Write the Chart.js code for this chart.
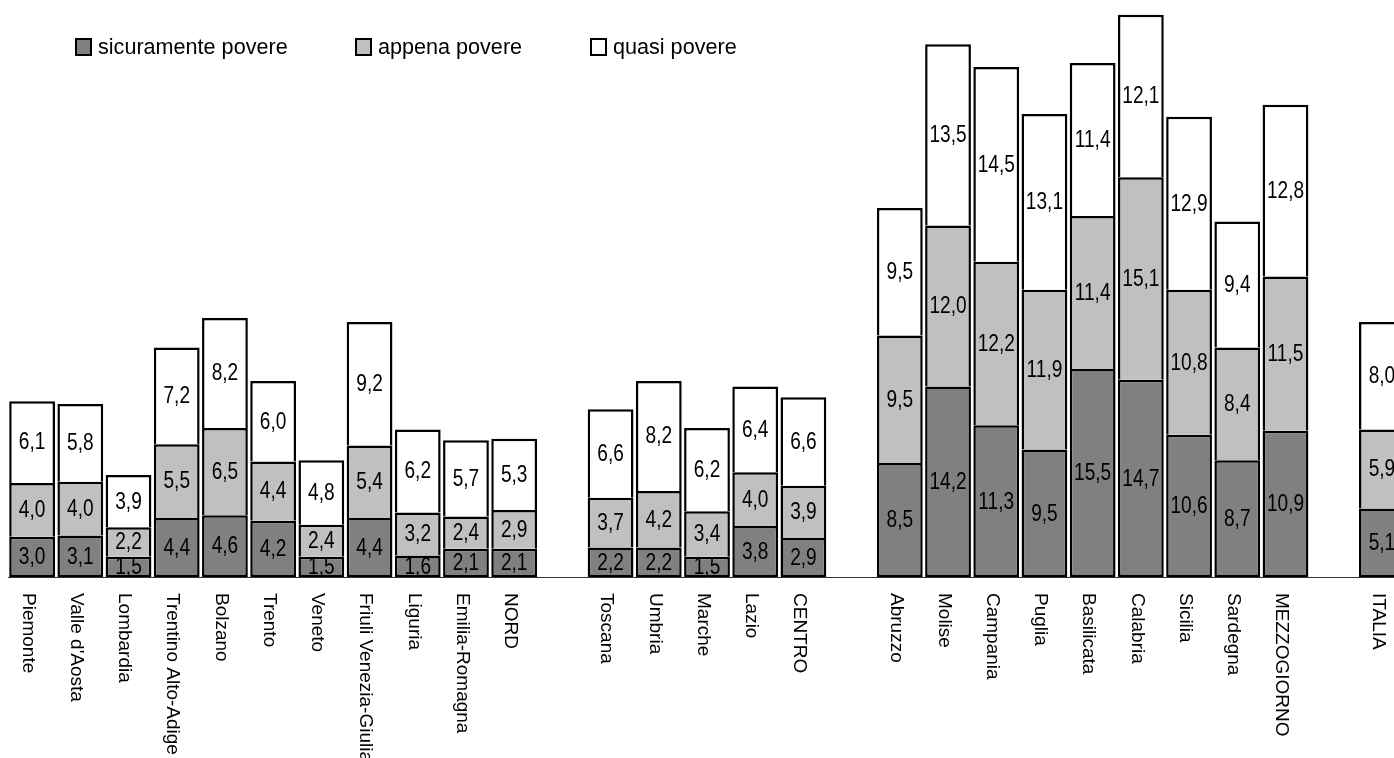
<!DOCTYPE html>
<html lang="it">
<head>
  <meta charset="UTF-8" />
  <title>Famiglie povere per regione</title>
  <script src="https://cdn.jsdelivr.net/npm/chart.js"></script>
  <style>
    body {
      margin: 0;
      overflow: hidden;
      background: #fff;
      font-family: 'Liberation Sans', Arial, sans-serif;
    }
    .wrap {
      position: relative;
      width: 1406px;
      height: 758px;
    }
    .legend-item {
      position: absolute;
      top: 36px;
      font-size: 21.6px;
      line-height: 22px;
      color: #000;
      white-space: nowrap;
    }
    .legend-item .box {
      display: inline-block;
      box-sizing: border-box;
      width: 17px;
      height: 18px;
      border: 2.5px solid #000;
      vertical-align: -2px;
      margin-right: 6px;
    }
  </style>
</head>
<body>
  <div class="wrap">
    <canvas id="chart"></canvas>
    <div class="legend-item" style="left:75px"><span class="box" style="background:#808080"></span>sicuramente povere</div>
    <div class="legend-item" style="left:355px"><span class="box" style="background:#c0c0c0"></span>appena povere</div>
    <div class="legend-item" style="left:590px"><span class="box" style="background:#fff"></span>quasi povere</div>
  </div>

  <script>
    // empty strings / nulls are the gaps between the area groups
    const regions = [
      'Piemonte', "Valle d'Aosta", 'Lombardia', 'Trentino Alto-Adige', 'Bolzano', 'Trento',
      'Veneto', 'Friuli Venezia-Giulia', 'Liguria', 'Emilia-Romagna', 'NORD', '',
      'Toscana', 'Umbria', 'Marche', 'Lazio', 'CENTRO', '',
      'Abruzzo', 'Molise', 'Campania', 'Puglia', 'Basilicata', 'Calabria', 'Sicilia',
      'Sardegna', 'MEZZOGIORNO', '', 'ITALIA'
    ];
    const sicuramente = [
      3.0, 3.1, 1.5, 4.4, 4.6, 4.2, 1.5, 4.4, 1.6, 2.1, 2.1, null,
      2.2, 2.2, 1.5, 3.8, 2.9, null,
      8.5, 14.2, 11.3, 9.5, 15.5, 14.7, 10.6, 8.7, 10.9, null, 5.1
    ];
    const appena = [
      4.0, 4.0, 2.2, 5.5, 6.5, 4.4, 2.4, 5.4, 3.2, 2.4, 2.9, null,
      3.7, 4.2, 3.4, 4.0, 3.9, null,
      9.5, 12.0, 12.2, 11.9, 11.4, 15.1, 10.8, 8.4, 11.5, null, 5.9
    ];
    const quasi = [
      6.1, 5.8, 3.9, 7.2, 8.2, 6.0, 4.8, 9.2, 6.2, 5.7, 5.3, null,
      6.6, 8.2, 6.2, 6.4, 6.6, null,
      9.5, 13.5, 14.5, 13.1, 11.4, 12.1, 12.9, 9.4, 12.8, null, 8.0
    ];

    const valueFont = "23px 'Liberation Sans', Arial, sans-serif";
    const tickFont = "19px 'Liberation Sans', Arial, sans-serif";

    // numbers inside every segment, with the Italian decimal comma
    // (squeezed horizontally, the original uses a narrow face)
    const segmentLabels = {
      id: 'segmentLabels',
      afterDatasetsDraw(chart) {
        const ctx = chart.ctx;
        ctx.save();
        ctx.font = valueFont;
        ctx.fillStyle = '#000';
        ctx.textAlign = 'center';
        ctx.textBaseline = 'middle';
        chart.data.datasets.forEach((ds, di) => {
          chart.getDatasetMeta(di).data.forEach((bar, i) => {
            const v = ds.data[i];
            if (v == null) return;
            ctx.save();
            ctx.translate(bar.x, (bar.y + bar.base) / 2 + 1);
            ctx.scale(0.83, 1);
            ctx.fillText(v.toFixed(1).replace('.', ','), 0, 0);
            ctx.restore();
          });
        });
        ctx.restore();
      }
    };

    // category names rotated, reading downwards under each bar
    const rotatedTicks = {
      id: 'rotatedTicks',
      afterDraw(chart) {
        const ctx = chart.ctx;
        const xs = chart.scales.x;
        const top = chart.chartArea.bottom + 16;
        ctx.save();
        ctx.font = tickFont;
        ctx.fillStyle = '#000';
        ctx.textAlign = 'left';
        ctx.textBaseline = 'middle';
        regions.forEach((name, i) => {
          if (!name) return;
          ctx.save();
          ctx.translate(xs.getPixelForValue(i) - 4, top);
          ctx.rotate(Math.PI / 2);
          ctx.fillText(name, 0, 0);
          ctx.restore();
        });
        ctx.restore();
      }
    };

    const common = {
      borderColor: '#000',
      borderWidth: 2.5,
      barPercentage: 0.95,
      categoryPercentage: 1
    };

    new Chart(document.getElementById('chart'), {
      type: 'bar',
      data: {
        labels: regions,
        datasets: [
          Object.assign({ label: 'sicuramente povere', data: sicuramente, backgroundColor: '#808080', borderSkipped: false }, common),
          Object.assign({ label: 'appena povere', data: appena, backgroundColor: '#c0c0c0', borderSkipped: 'bottom' }, common),
          Object.assign({ label: 'quasi povere', data: quasi, backgroundColor: '#ffffff', borderSkipped: 'bottom' }, common)
        ]
      },
      options: {
        responsive: true,
        maintainAspectRatio: false,
        animation: false,
        layout: { padding: { left: 8, right: 0, top: 0, bottom: 173 } },
        plugins: {
          legend: { display: false },
          tooltip: { enabled: false }
        },
        scales: {
          x: {
            stacked: true,
            grid: { display: false },
            ticks: { display: false },
            border: { display: true, color: '#333', width: 1 }
          },
          y: {
            stacked: true,
            display: false,
            min: 0,
            max: 43
          }
        }
      },
      plugins: [segmentLabels, rotatedTicks]
    });
  </script>
</body>
</html>
